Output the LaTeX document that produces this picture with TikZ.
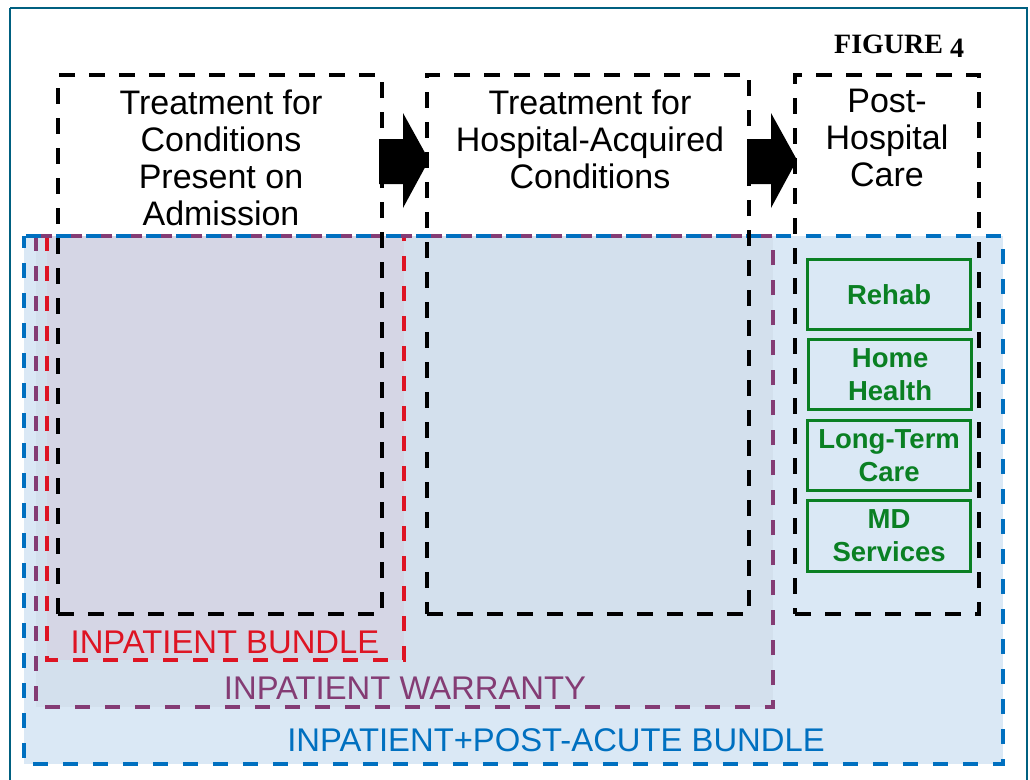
\documentclass[tikz,border=0pt]{standalone}
\usepackage{fontspec}
\setmainfont{Liberation Sans}
\newfontfamily\serifb{Liberation Serif}
\definecolor{frameteal}{RGB}{0,96,128}
\definecolor{bfill}{RGB}{218,232,245}
\definecolor{pfill}{RGB}{211,224,237}
\definecolor{rfill}{RGB}{213,214,229}
\definecolor{bline}{RGB}{0,112,192}
\definecolor{pline}{RGB}{132,60,116}
\definecolor{rline}{RGB}{222,20,35}
\definecolor{gline}{RGB}{10,128,35}
\begin{document}
\begin{tikzpicture}[x=1pt,y=-1pt,
  dsh/.style={dash pattern=on 15pt off 15pt},
  stagebox/.style={draw=black, line width=3.8pt, dash pattern=on 16pt off 14pt, anchor=north west, inner sep=0pt, outer sep=0pt},
  bundlebox/.style={anchor=north west, inner sep=0pt, outer sep=0pt},
  bline3/.style={line width=4pt, dsh},
  title/.style={align=center, font=\fontsize{34}{37}\selectfont, anchor=north, inner sep=0pt},
  blabel/.style={font=\fontsize{32.8}{36}\selectfont, inner sep=0pt},
  svc/.style={draw=gline, line width=3.2pt, text=gline, align=center, anchor=north west,
    font=\fontsize{27.5}{33}\selectfont\bfseries, inner sep=0pt, minimum width=163pt, minimum height=70pt},
  bigarrow/.style={fill=black, draw=none}
]
\useasboundingbox (0,0) rectangle (1030,779);
\fill[white] (0,0) rectangle (1030,779);
% frame
\draw[frameteal, line width=2pt] (10,8) -- (1027,8) -- (1027,800) (10,8) -- (10,800);
% figure label
\node[font=\serifb\fontsize{28}{30}\selectfont\bfseries, anchor=base west, inner sep=0pt] (fig) at (834,53) {FIGURE \raisebox{-4pt}{4}};
% bundle fills
\node[bundlebox, fill=bfill, minimum width=979pt, minimum height=528pt] (pab) at (24,236) {};
\node[bundlebox, fill=pfill, minimum width=737pt, minimum height=471pt] (iw) at (36,236) {};
\node[bundlebox, fill=rfill, minimum width=357pt, minimum height=424pt] (ib) at (47,236) {};
% bundle outlines
\draw[rline, bline3] (ib.north west) -- (ib.south west) -- (ib.south east) -- (ib.north east);
\draw[pline, bline3] (iw.north west) rectangle (iw.south east);
\draw[bline, bline3, dash phase=3pt] (pab.north west) rectangle (pab.south east);
% stage boxes
\node[stagebox, minimum width=324pt, minimum height=539pt] (s1) at (58,75) {};
\node[stagebox, minimum width=322pt, minimum height=539pt] (s2) at (427,75) {};
\node[stagebox, minimum width=184pt, minimum height=539pt] (s3) at (795,75) {};
% titles
\node[title] (t1) at (221,90) {Treatment for\\Conditions\\Present on\\Admission};
\node[title] (t2) at (590,90) {Treatment for\\Hospital-Acquired\\Conditions};
\node[title] (t3) at (887,89) {Post-\\Hospital\\Care};
% block arrows
\fill[bigarrow] (379,139) -- (403,139) -- (403,113) -- (429,160) -- (403,208) -- (403,184) -- (379,184) -- cycle;
\fill[bigarrow] (747,139) -- (771,139) -- (771,113) -- (797,160) -- (771,208) -- (771,184) -- (747,184) -- cycle;
% services
\node[svc] (reh) at (806,258) {Rehab};
\node[svc] (hh) at (807,338) {Home\\Health};
\node[svc] (ltc) at (806,419) {Long-Term\\Care};
\node[svc, minimum height=71pt] (md) at (806,499) {MD\\Services};
% labels
\node[blabel, text=rline] (lib) at (225,642) {INPATIENT BUNDLE};
\node[blabel, text=pline] (liw) at (405,688) {INPATIENT WARRANTY};
\node[blabel, text=bline] (lpab) at (556,740) {INPATIENT+POST-ACUTE BUNDLE};
\end{tikzpicture}
\end{document}
